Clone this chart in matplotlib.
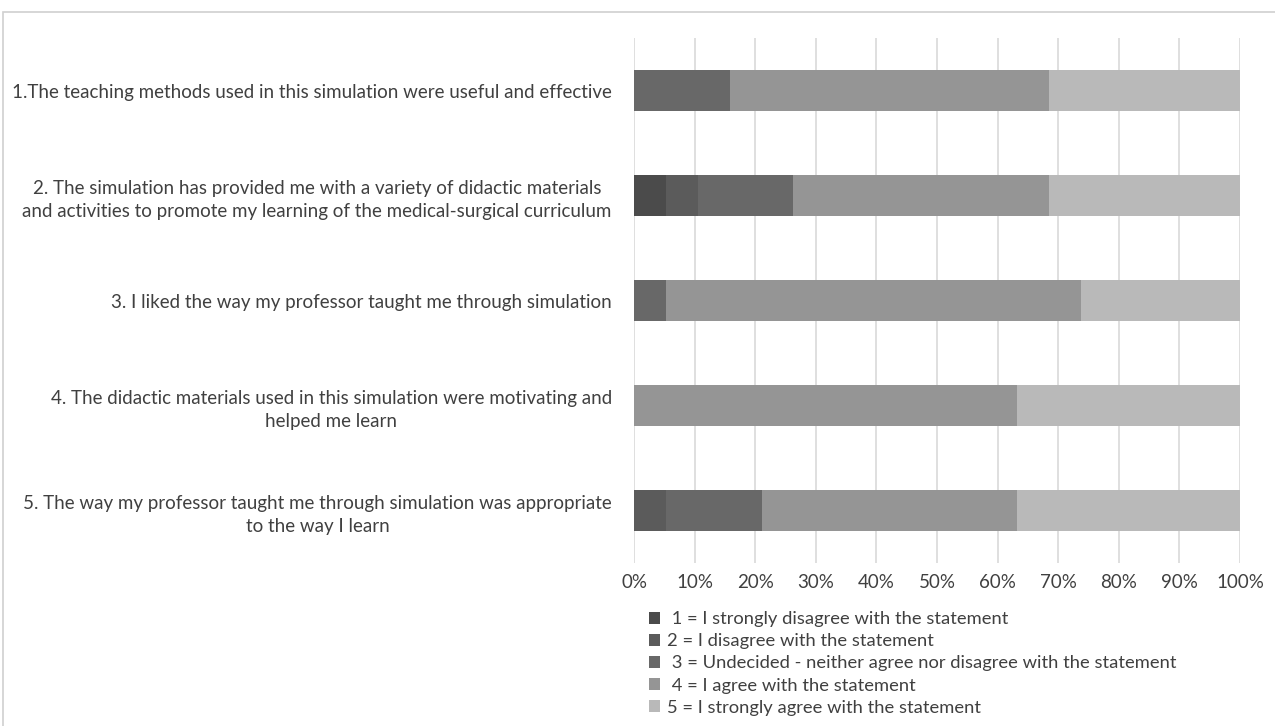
import numpy as np
import matplotlib.pyplot as plt
from matplotlib.patches import Rectangle

plt.rcParams['font.family'] = ['Lato', 'DejaVu Sans']

# survey statements (top to bottom)
questions = [
    "1.The teaching methods used in this simulation were useful and effective",
    "2. The simulation has provided me with a variety of didactic materials\nand activities to promote my learning of the medical-surgical curriculum",
    "3. I liked the way my professor taught me through simulation",
    "4. The didactic materials used in this simulation were motivating and\nhelped me learn",
    "5. The way my professor taught me through simulation was appropriate\nto the way I learn",
]
legend_labels = [
    " 1 = I strongly disagree with the statement",
    "2 = I disagree with the statement",
    " 3 = Undecided - neither agree nor disagree with the statement",
    " 4 = I agree with the statement",
    "5 = I strongly agree with the statement",
]
# share of answers (%) per level 1..5
level1 = [0.0, 5.26, 0.0, 0.0, 0.0]
level2 = [0.0, 5.26, 0.0, 0.0, 5.26]
level3 = [15.79, 15.79, 5.26, 0.0, 15.79]
level4 = [52.63, 42.11, 68.42, 63.16, 42.11]
level5 = [31.58, 31.58, 26.32, 36.84, 36.84]
colors = ['#4b4b4b', '#5b5b5b', '#686868', '#959595', '#b9b9b9']

fig = plt.figure(figsize=(12.75, 7.26), dpi=100)
ax = fig.add_axes([0.4973, 0.2245, 0.4753, 0.7231])

# outer chart frame
fig.patches.append(Rectangle((0.0025, -0.02), 1.2, 1.0 - 0.0165 + 0.02, transform=fig.transFigure,
                             fill=False, edgecolor='#d0d0d0', linewidth=1.2))

y = np.arange(len(questions))
left = np.zeros(len(questions))
for vals, c, lab in zip([level1, level2, level3, level4, level5], colors, legend_labels):
    ax.barh(y, vals, left=left, height=0.39, color=c, label=lab, zorder=3)
    left += np.array(vals)

fs = 13.5
ax.set_xlim(0, 100)
ax.set_ylim(len(questions) - 0.5, -0.5)
ax.set_xticks(np.arange(0, 101, 10))
ax.set_xticklabels([f"{v}%" for v in range(0, 101, 10)], fontsize=fs, color='#404040')
ax.set_yticks(y)
ax.set_yticklabels(questions, fontsize=fs, color='#404040', ha='right',
                   multialignment='center', linespacing=1.4)
ax.tick_params(axis='both', length=0)
ax.tick_params(axis='y', pad=16)
ax.tick_params(axis='x', pad=8)
ax.grid(axis='x', color='#d9d9d9', linewidth=1.2, zorder=0)
for s in ax.spines.values():
    s.set_visible(False)

leg = fig.legend(loc='upper left', bbox_to_anchor=(0.503, 0.168), frameon=False,
                 fontsize=13.2, handlelength=0.6, handleheight=0.6, handletextpad=0.4,
                 labelspacing=0.33, borderaxespad=0, labelcolor='#404040')

fig.savefig('out.png', dpi=100)
